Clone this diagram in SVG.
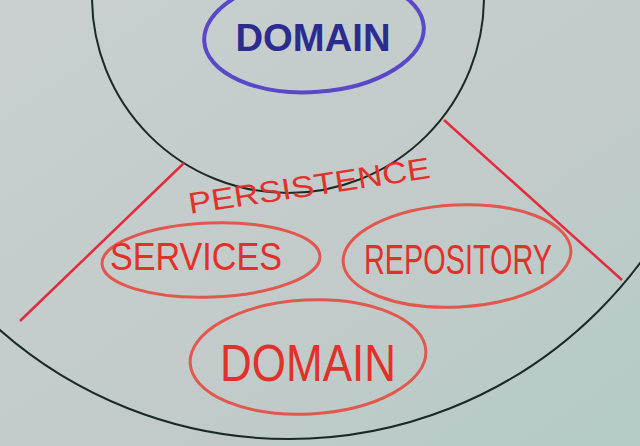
<svg xmlns="http://www.w3.org/2000/svg" width="640" height="446" viewBox="0 0 640 446">
<defs>
<linearGradient id="bg" x1="0" y1="0" x2="1" y2="1">
<stop offset="0" stop-color="#c9cfcf"/>
<stop offset="0.6" stop-color="#c2cbca"/>
<stop offset="1" stop-color="#b3cbc6"/>
</linearGradient>
<style>
.ring{fill:none;stroke:#1a2a22;stroke-width:2}
.blueE{fill:none;stroke:#5a48c8;stroke-width:4}
.blueT{fill:#2c2c8e;font-family:"Liberation Sans",sans-serif;font-weight:bold}
.redE{fill:none;stroke:#e0584e;stroke-width:3}
.redT{fill:#e2302a;font-family:"Liberation Sans",sans-serif}
.redL{fill:none;stroke:#e42a3c;stroke-width:2.5}
</style>
</defs>
<rect width="640" height="446" fill="url(#bg)"/>
<g id="layers">
<circle class="ring" cx="289" cy="1" r="438"/>
<circle class="ring" cx="288" cy="-3" r="196"/>
</g>
<g id="connectors">
<line class="redL" x1="184" y1="163" x2="20" y2="321"/>
<line class="redL" x1="444" y1="120" x2="622" y2="280"/>
</g>
<g id="domain-core">
<ellipse class="blueE" cx="314" cy="34" rx="110" ry="58" transform="rotate(-4 314 34)"/>
<text class="blueT" x="313" y="51" font-size="38" text-anchor="middle" textLength="155" lengthAdjust="spacingAndGlyphs">DOMAIN</text>
</g>
<g id="persistence">
<text class="redT" x="0" y="0" font-size="30" textLength="244" lengthAdjust="spacingAndGlyphs" transform="translate(190 214) rotate(-8.5)">PERSISTENCE</text>
</g>
<g id="services">
<ellipse class="redE" cx="211" cy="260" rx="109" ry="37" transform="rotate(-2 211 260)"/>
<text class="redT" x="196" y="270" font-size="38" text-anchor="middle" textLength="172" lengthAdjust="spacingAndGlyphs">SERVICES</text>
</g>
<g id="repository">
<ellipse class="redE" cx="457" cy="256" rx="114" ry="51" transform="rotate(-3 457 256)"/>
<text class="redT" x="458" y="274" font-size="42" text-anchor="middle" textLength="188" lengthAdjust="spacingAndGlyphs">REPOSITORY</text>
</g>
<g id="domain-persistence">
<ellipse class="redE" cx="308" cy="357" rx="118" ry="57" transform="rotate(-3 308 357)"/>
<text class="redT" x="308" y="381" font-size="52" text-anchor="middle" textLength="176" lengthAdjust="spacingAndGlyphs">DOMAIN</text>
</g>
</svg>
